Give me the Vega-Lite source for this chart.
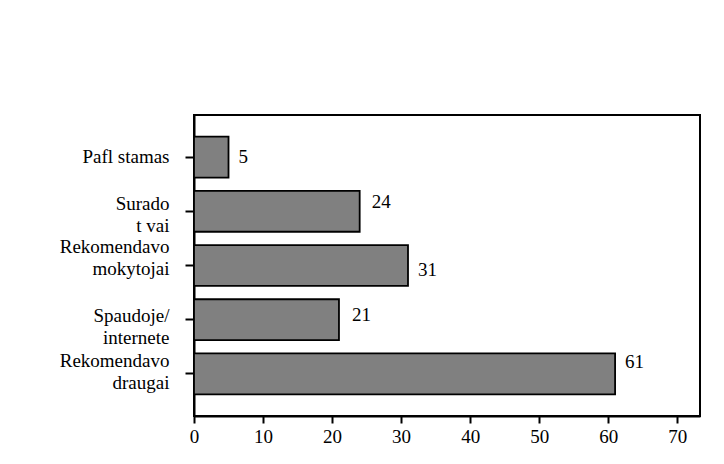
{
  "$schema": "https://vega.github.io/schema/vega-lite/v6.json",
  "autosize": {"type": "none"},
  "padding": {"left": 194, "top": 115, "right": 24, "bottom": 48},
  "width": 506,
  "height": 301,
  "background": "white",
  "config": {
    "view": {"stroke": "black", "strokeWidth": 2},
    "font": "Times New Roman, Liberation Serif, serif",
    "axis": {
      "labelFont": "Times New Roman, Liberation Serif, serif",
      "labelFontSize": 19,
      "labelColor": "black",
      "domainColor": "black",
      "domainWidth": 2,
      "tickColor": "black",
      "tickWidth": 2,
      "grid": false,
      "title": null
    }
  },
  "data": {
    "values": [
      {"source": "Pafl stamas", "count": 5},
      {"source": "Surado\nt  vai", "count": 24},
      {"source": "Rekomendavo\nmokytojai", "count": 31},
      {"source": "Spaudoje/\ninternete", "count": 21},
      {"source": "Rekomendavo\ndraugai", "count": 61}
    ]
  },
  "encoding": {
    "y": {
      "field": "source",
      "type": "nominal",
      "sort": null,
      "scale": {"paddingInner": 0.245, "paddingOuter": 0.4},
      "axis": {
        "labelExpr": "split(datum.label, '\\n')",
        "labelLineHeight": 22,
        "tickSize": 9,
        "labelPadding": 16,
        "labelLimit": 300,
        "labelOffset": {
          "condition": [
            {"test": "datum.value == 'Surado\\nt  vai'", "value": -7},
            {"test": "datum.value == 'Rekomendavo\\nmokytojai'", "value": -19},
            {"test": "datum.value == 'Spaudoje/\\ninternete'", "value": -4},
            {"test": "datum.value == 'Rekomendavo\\ndraugai'", "value": -13}
          ],
          "value": 0
        }
      }
    },
    "x": {
      "field": "count",
      "type": "quantitative",
      "scale": {"domain": [0, 73.3], "nice": false},
      "axis": {"values": [0, 10, 20, 30, 40, 50, 60, 70], "tickSize": 7, "labelPadding": 4, "labelFlush": false}
    }
  },
  "layer": [
    {
      "mark": {"type": "bar", "fill": "#808080", "stroke": "black", "strokeWidth": 1.8}
    },
    {
      "transform": [{"filter": "datum.count == 5"}],
      "mark": {"type": "text", "align": "left", "baseline": "middle", "dx": 10, "dy": 0, "fontSize": 19, "color": "black"},
      "encoding": {"text": {"field": "count", "type": "quantitative"}}
    },
    {
      "transform": [{"filter": "datum.count == 24"}],
      "mark": {"type": "text", "align": "left", "baseline": "middle", "dx": 12, "dy": -9, "fontSize": 19, "color": "black"},
      "encoding": {"text": {"field": "count", "type": "quantitative"}}
    },
    {
      "transform": [{"filter": "datum.count == 31"}],
      "mark": {"type": "text", "align": "left", "baseline": "middle", "dx": 10, "dy": 4, "fontSize": 19, "color": "black"},
      "encoding": {"text": {"field": "count", "type": "quantitative"}}
    },
    {
      "transform": [{"filter": "datum.count == 21"}],
      "mark": {"type": "text", "align": "left", "baseline": "middle", "dx": 13, "dy": -5, "fontSize": 19, "color": "black"},
      "encoding": {"text": {"field": "count", "type": "quantitative"}}
    },
    {
      "transform": [{"filter": "datum.count == 61"}],
      "mark": {"type": "text", "align": "left", "baseline": "middle", "dx": 10, "dy": -12, "fontSize": 19, "color": "black"},
      "encoding": {"text": {"field": "count", "type": "quantitative"}}
    }
  ]
}
